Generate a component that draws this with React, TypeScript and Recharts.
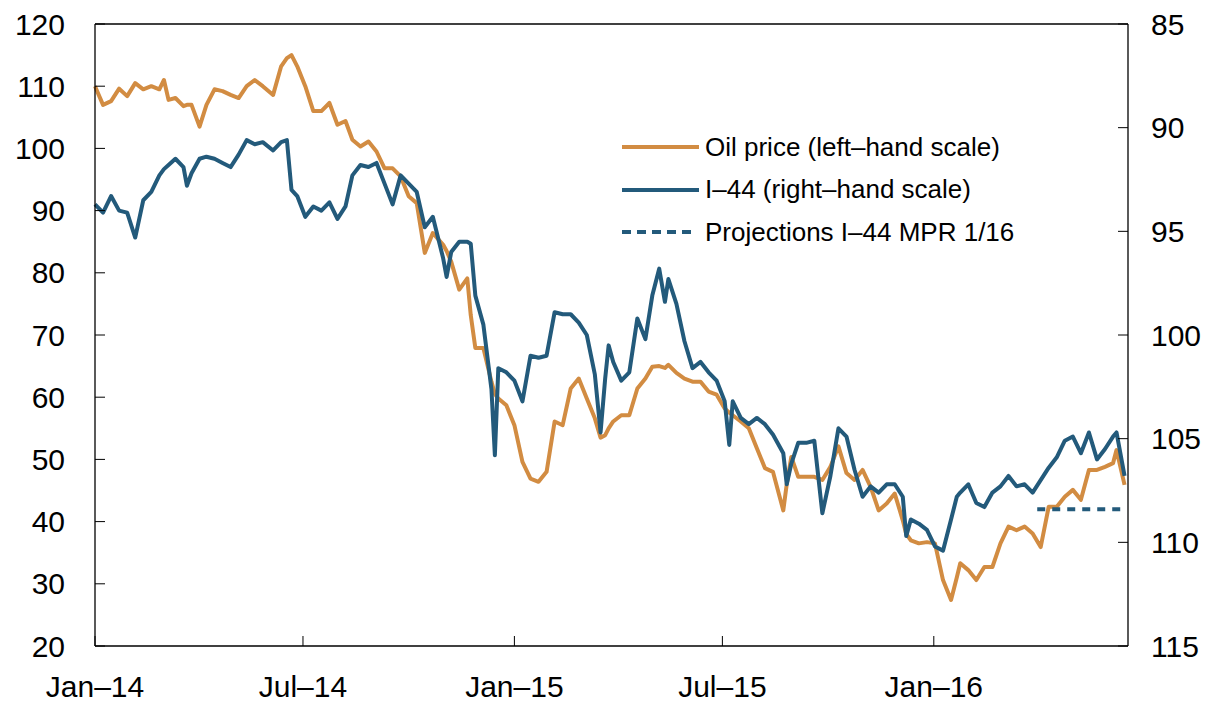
import { Line, LineChart, ReferenceLine, XAxis, YAxis } from 'recharts';

// days since 1 Jan 2014
const days = [
  0, 7, 14, 21, 28, 35, 42, 49, 56, 60, 64, 70, 77, 80, 84, 91, 97, 104, 111, 118,
  125, 132, 139, 146, 155, 162, 167, 171, 176, 183, 190, 197, 204, 211, 218, 224, 231, 238, 245, 252,
  259, 266, 273, 280, 287, 294, 303, 306, 310, 317, 324, 327, 331, 338, 345, 348, 351, 358, 365, 372,
  379, 386, 393, 400, 407, 414, 421, 428, 435, 440, 444, 447, 451, 458, 465, 472, 479, 485, 491, 496,
  499, 506, 513, 520, 527, 534, 541, 548, 552, 555, 562, 569, 576, 583, 590, 599, 602, 606, 612, 619,
  626, 633, 640, 647, 654, 661, 668, 675, 682, 689, 696, 703, 706, 710, 717, 724, 731, 738, 745, 750,
  753, 760, 767, 774, 781, 788, 795, 802, 809, 816, 823, 830, 837, 844, 851, 858, 865, 872, 879, 886,
  889, 896,
];

const oilPrice = [
  110.0, 107.0, 107.6, 109.6, 108.4, 110.5, 109.5, 110.0, 109.5, 111.0, 107.8, 108.1, 106.8, 107.0, 107.0, 103.5, 107.0, 109.5, 109.2, 108.6,
  108.1, 110.0, 111.0, 110.0, 108.6, 113.2, 114.5, 115.0, 113.2, 110.0, 106.0, 106.0, 107.3, 103.8, 104.4, 101.4, 100.3, 101.1, 99.5, 96.8,
  96.8, 95.5, 92.3, 91.2, 83.2, 86.4, 84.5, 83.5, 81.8, 77.3, 79.1, 73.2, 67.9, 67.9, 62.5, 60.5, 59.8, 58.7, 55.5, 49.6,
  46.9, 46.4, 48.0, 56.1, 55.5, 61.4, 63.0, 59.8, 56.6, 53.5, 53.9, 55.0, 56.1, 57.1, 57.1, 61.4, 63.0, 64.9, 65.0, 64.7,
  65.2, 63.9, 63.0, 62.5, 62.5, 60.9, 60.4, 58.2, 57.5, 57.1, 56.1, 55.0, 51.8, 48.6, 48.0, 41.8, 46.0, 50.4, 47.2, 47.2,
  47.2, 46.7, 48.8, 52.1, 47.8, 46.7, 48.3, 45.6, 41.8, 42.9, 44.5, 40.2, 38.0, 37.0, 36.5, 36.7, 36.5, 30.6, 27.4, 31.0,
  33.3, 32.2, 30.6, 32.7, 32.7, 36.5, 39.2, 38.6, 39.2, 38.1, 35.9, 42.4, 42.4, 44.0, 45.1, 43.5, 48.3, 48.3, 48.8, 49.4,
  51.5, 45.9,
];

const i44 = [
  93.7, 94.1, 93.3, 94.0, 94.1, 95.3, 93.5, 93.1, 92.3, 92.0, 91.8, 91.5, 91.9, 92.8, 92.2, 91.5, 91.4, 91.5, 91.7, 91.9,
  91.3, 90.6, 90.8, 90.7, 91.1, 90.7, 90.6, 93.0, 93.3, 94.3, 93.8, 94.0, 93.6, 94.4, 93.8, 92.3, 91.8, 91.9, 91.7, 92.7,
  93.7, 92.3, 92.7, 93.1, 94.8, 94.3, 96.3, 97.2, 96.0, 95.5, 95.5, 95.6, 98.1, 99.5, 102.6, 105.8, 101.6, 101.8, 102.2, 103.2,
  101.0, 101.1, 101.0, 98.9, 99.0, 99.0, 99.4, 100.0, 101.9, 104.7, 102.1, 100.5, 101.3, 102.2, 101.8, 99.2, 100.2, 98.1, 96.8, 98.4,
  97.3, 98.5, 100.3, 101.6, 101.3, 101.8, 102.2, 103.2, 105.3, 103.2, 104.0, 104.3, 104.0, 104.3, 104.8, 105.7, 107.2, 106.2, 105.2, 105.2,
  105.1, 108.6, 106.8, 104.5, 104.9, 106.5, 107.8, 107.3, 107.6, 107.2, 107.2, 107.8, 109.7, 108.9, 109.1, 109.4, 110.2, 110.4, 108.9, 107.8,
  107.6, 107.2, 108.1, 108.3, 107.6, 107.3, 106.8, 107.3, 107.2, 107.6, 107.0, 106.4, 105.9, 105.1, 104.9, 105.7, 104.7, 106.0, 105.5, 104.9,
  104.7, 106.8,
];

const projectionDays = [820, 896];
const projectionI44 = [108.4, 108.4];

const xTicks = [0, 181, 365, 546, 730];
const xTickLabels = ['Jan–14', 'Jul–14', 'Jan–15', 'Jul–15', 'Jan–16'];
const leftTicks = [20, 30, 40, 50, 60, 70, 80, 90, 100, 110, 120];
const rightTicks = [85, 90, 95, 100, 105, 110, 115];

const ORANGE = '#D28C42';
const BLUE = '#235A7B';
const FONT = '"Liberation Sans", Arial, Helvetica, sans-serif';

const data = days.map((d, i) => ({ day: d, oil: oilPrice[i], i44: i44[i] }));
const projData = projectionDays.map((d, i) => ({ day: d, proj: projectionI44[i] }));

const legendItems = [
  { label: 'Oil price (left–hand scale)', color: ORANGE, dash: undefined },
  { label: 'I–44 (right–hand scale)', color: BLUE, dash: undefined },
  { label: 'Projections I–44 MPR 1/16', color: BLUE, dash: '9 6' },
];

export default function App() {
  const tickStyle = { fill: '#000', fontSize: 30, fontFamily: FONT };
  return (
    <div style={{ position: 'absolute', left: 0, top: 0, width: 1217, height: 705, background: '#fff' }}>
      <LineChart
        width={1217}
        height={705}
        data={data}
        margin={{ top: 24, right: 0, bottom: 0, left: 0 }}
        style={{ fontFamily: FONT }}
      >
        <XAxis
          dataKey="day"
          type="number"
          domain={[0, 899]}
          ticks={xTicks}
          interval={0}
          tickFormatter={(v) => xTickLabels[xTicks.indexOf(v)] ?? ''}
          tickSize={-10}
          tickMargin={40}
          height={59}
          stroke="#000"
          axisLine={{ stroke: '#000', strokeWidth: 1.3 }}
          tick={tickStyle}
        />
        <YAxis
          yAxisId="left"
          domain={[20, 120]}
          ticks={leftTicks}
          interval={0}
          allowDataOverflow
          tickSize={-10}
          tickMargin={40}
          width={95}
          stroke="#000"
          axisLine={{ stroke: '#000', strokeWidth: 1.3 }}
          tick={tickStyle}
        />
        <YAxis
          yAxisId="right"
          orientation="right"
          reversed
          domain={[85, 115]}
          ticks={rightTicks}
          interval={0}
          allowDataOverflow
          tickSize={-10}
          tickMargin={33}
          width={89}
          stroke="#000"
          axisLine={{ stroke: '#000', strokeWidth: 1.3 }}
          tick={tickStyle}
        />
        <ReferenceLine yAxisId="left" y={120} stroke="#000" strokeWidth={1.3} />
        <Line
          yAxisId="left"
          dataKey="oil"
          type="linear"
          stroke={ORANGE}
          strokeWidth={4}
          dot={false}
          strokeLinejoin="round"
          isAnimationActive={false}
        />
        <Line
          yAxisId="right"
          dataKey="i44"
          type="linear"
          stroke={BLUE}
          strokeWidth={4}
          dot={false}
          strokeLinejoin="round"
          isAnimationActive={false}
        />
        <Line
          yAxisId="right"
          data={projData}
          dataKey="proj"
          type="linear"
          stroke={BLUE}
          strokeWidth={4}
          strokeDasharray="8 7"
          dot={false}
          isAnimationActive={false}
        />
      </LineChart>
      <div style={{ position: 'absolute', left: 620, top: 126, fontFamily: FONT, fontSize: 26, color: '#000' }}>
        {legendItems.map((item) => (
          <div key={item.label} style={{ display: 'flex', alignItems: 'center', height: 42.5 }}>
            <svg width={85} height={10} style={{ display: 'block' }}>
              <line
                x1={2}
                x2={item.dash ? 73 : 79}
                y1={5}
                y2={5}
                stroke={item.color}
                strokeWidth={4}
                strokeDasharray={item.dash}
              />
            </svg>
            <span style={{ whiteSpace: 'nowrap' }}>{item.label}</span>
          </div>
        ))}
      </div>
    </div>
  );
}
